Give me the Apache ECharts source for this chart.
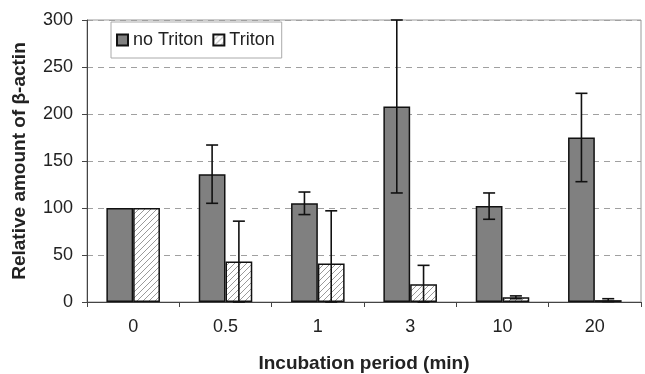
<!DOCTYPE html>
<html>
<head>
<meta charset="utf-8">
<script src="https://cdn.jsdelivr.net/npm/echarts@6/dist/echarts.min.js"></script>
<style>html,body{margin:0;padding:0;background:#fff;}#c{width:645px;height:374px;}</style>
</head>
<body>
<div id="c"></div>
<script>
var categories = ['0', '0.5', '1', '3', '10', '20'];
var noTriton = [100, 136, 105, 208, 102, 175];
var noTritonErr = [0, 31, 12, 92, 14, 47];
var triton = [100, 43, 41, 19, 5, 2];
var tritonErr = [0, 43, 56, 20, 1.5, 1.5];
var yTicks = [0, 50, 100, 150, 200, 250, 300];

var FONT = '"Liberation Sans", Arial, sans-serif';

function makeHatch() {
  var s = 6;
  var cv = document.createElement('canvas');
  cv.width = s; cv.height = s;
  var ctx = cv.getContext('2d');
  ctx.fillStyle = '#ffffff';
  ctx.fillRect(0, 0, s, s);
  ctx.strokeStyle = '#9a9a9a';
  ctx.lineWidth = 1;
  ctx.beginPath();
  ctx.moveTo(-1, s + 1); ctx.lineTo(s + 1, -1);
  ctx.moveTo(-1, 1); ctx.lineTo(1, -1);
  ctx.moveTo(s - 1, s + 1); ctx.lineTo(s + 1, s - 1);
  ctx.stroke();
  return cv;
}
var hatch = makeHatch();

var BAR_FRAC = 0.29;

function errSeries(vals, errs, side) {
  var data = vals.map(function (v, i) { return [i, v, errs[i]]; });
  return {
    type: 'custom',
    silent: true,
    z: 5,
    renderItem: function (params, api) {
      var i = api.value(0), v = api.value(1), e = api.value(2);
      if (!e) return null;
      var c = api.coord([i, v]);
      var bw = api.size([1, 0])[0] * BAR_FRAC;
      var x = c[0] + side * bw / 2;
      var hi = Math.min(v + e, 300), lo = Math.max(v - e, 0);
      var yt = api.coord([i, hi])[1];
      var yb = api.coord([i, lo])[1];
      var cap = 6;
      var st = { stroke: '#111', lineWidth: 1.6 };
      return {
        type: 'group',
        children: [
          { type: 'line', shape: { x1: x, y1: yt, x2: x, y2: yb }, style: st },
          { type: 'line', shape: { x1: x - cap, y1: yt, x2: x + cap, y2: yt }, style: st },
          { type: 'line', shape: { x1: x - cap, y1: yb, x2: x + cap, y2: yb }, style: st }
        ]
      };
    },
    data: data
  };
}

var chart = echarts.init(document.getElementById('c'));
chart.setOption({
  animation: false,
  textStyle: { fontFamily: FONT },
  grid: {
    left: 87, right: 4, top: 20, bottom: 72,
    containLabel: false, outerBoundsMode: 'none',
    show: true, borderColor: '#9a9a9a', borderWidth: 1, backgroundColor: 'transparent'
  },
  legend: {
    data: ['no Triton', 'Triton'],
    left: 111, top: 22,
    orient: 'horizontal',
    itemWidth: 11, itemHeight: 11, itemGap: 9,
    padding: [9, 7, 9, 5],
    borderColor: '#aaa', borderWidth: 1,
    textStyle: { fontSize: 18, color: '#222', fontFamily: FONT, padding: [0, 0, 0, 0] },
    icon: 'rect'
  },
  xAxis: {
    type: 'category',
    data: categories,
    name: 'Incubation period (min)',
    nameLocation: 'middle',
    nameGap: 52,
    nameTextStyle: { fontSize: 19, fontWeight: 'bold', color: '#222', fontFamily: FONT },
    axisLine: { lineStyle: { color: '#444', width: 1 } },
    axisTick: { show: true, length: 5, lineStyle: { color: '#444' } },
    axisLabel: { fontSize: 18, color: '#222', margin: 16, fontFamily: FONT },
    splitLine: { show: false }
  },
  yAxis: {
    type: 'value',
    min: 0, max: 300, interval: 50,
    name: 'Relative amount of β-actin',
    nameLocation: 'middle',
    nameGap: 58,
    nameTextStyle: { fontSize: 19, fontWeight: 'bold', color: '#222', fontFamily: FONT },
    axisLine: { show: true, lineStyle: { color: '#444', width: 1 } },
    axisTick: { show: true, length: 5, lineStyle: { color: '#444' } },
    axisLabel: {
      fontSize: 18, color: '#222', margin: 14, fontFamily: FONT,
      formatter: function (v) { return yTicks.indexOf(v) >= 0 ? String(v) : ''; }
    },
    splitLine: { show: true, lineStyle: { color: '#a0a0a0', type: [6, 5], width: 1 } }
  },
  series: [
    {
      name: 'no Triton', type: 'bar', data: noTriton,
      barWidth: (BAR_FRAC * 100) + '%', barGap: '0%',
      itemStyle: { color: '#808080', borderColor: '#111', borderWidth: 1.5 }
    },
    {
      name: 'Triton', type: 'bar', data: triton,
      barWidth: (BAR_FRAC * 100) + '%', barGap: '0%',
      itemStyle: { color: { image: hatch, repeat: 'repeat' }, borderColor: '#111', borderWidth: 1.5 }
    },
    errSeries(noTriton, noTritonErr, -1),
    errSeries(triton, tritonErr, 1)
  ]
});
</script>
</body>
</html>
